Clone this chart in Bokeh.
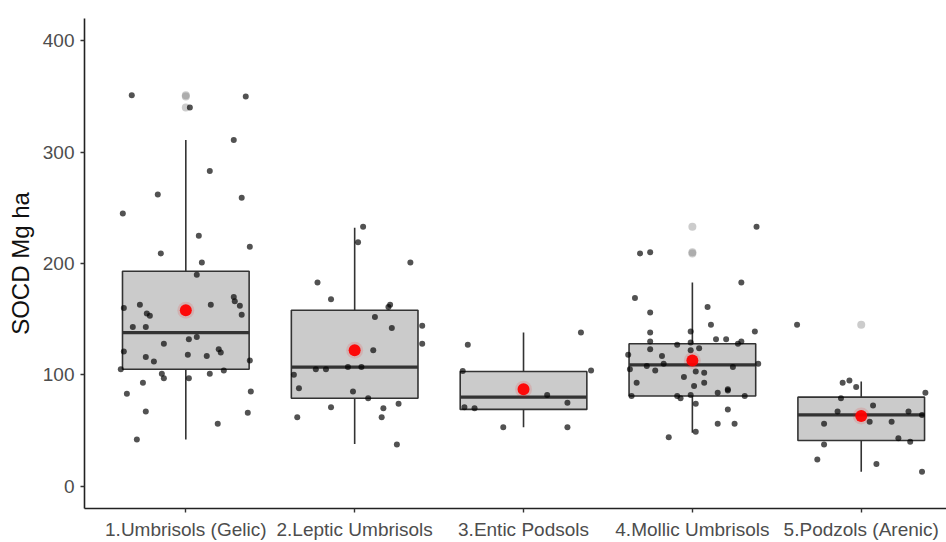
from bokeh.plotting import figure
from bokeh.models import FixedTicker, Range1d
from bokeh.embed import file_html
from bokeh.resources import INLINE

# ---------------- data ----------------
categories = ["1.Umbrisols (Gelic)", "2.Leptic Umbrisols", "3.Entic Podsols",
              "4.Mollic Umbrisols", "5.Podzols (Arenic)"]
y_ticks = [0, 100, 200, 300, 400]

# box statistics
q1 = [105, 79, 69, 81, 41]
median = [138, 107, 80, 109, 64]
q3 = [193, 158, 103, 128, 80]
whisker_low = [42, 38, 53, 48, 13]
whisker_high = [311, 232, 138, 183, 94]
means = [158, 122, 87, 113, 63]

# boxplot outliers (group index 1..5, value)
outlier_group = [1, 1, 1, 4, 4, 4, 5]
outlier_value = [351, 350, 340, 233, 210, 209, 145]

# jittered observations: values and horizontal jitter (category units)
umbrisols_gelic = [351, 350, 340, 311, 283, 262, 259, 245, 225, 215, 209, 201, 190, 170,
                   166, 162, 163, 160, 163, 155, 153, 154, 143, 143, 134, 132, 128, 121,
                   118, 117, 116, 112, 123, 120, 113, 105, 101, 97, 97, 101, 104, 93, 83,
                   85, 67, 66, 56, 42]
umbrisols_gelic_jit = [-0.32, 0.355, 0.024, 0.284, 0.142, -0.166, 0.331, -0.373, 0.077,
                       0.379, -0.148, 0.095, 0.065, 0.284, 0.29, 0.32, -0.272, -0.367,
                       0.148, -0.231, -0.213, 0.331, -0.314, -0.237, 0.065, 0.018, -0.13,
                       -0.367, 0.012, 0.124, -0.237, -0.189, 0.195, 0.207, 0.379, -0.385,
                       -0.142, -0.13, 0.018, 0.142, 0.225, -0.254, -0.349, 0.385, -0.237,
                       0.367, 0.189, -0.29]

leptic_umbrisols = [233, 219, 201, 183, 168, 163, 161, 152, 142, 144, 128, 122, 105, 105,
                    107, 107, 100, 88, 85, 79, 71, 74, 70, 62, 62, 37.5]
leptic_umbrisols_jit = [0.05, 0.02, 0.33, -0.22, -0.14, 0.21, 0.20, 0.12, 0.22, 0.40, 0.40,
                        0.11, -0.23, -0.17, -0.04, 0.04, -0.36, -0.33, -0.01, 0.08, -0.14,
                        0.26, 0.17, 0.16, -0.34, 0.25]

entic_podsols = [127, 138, 103.5, 104, 82, 75, 71, 70, 53, 53]
entic_podsols_jit = [-0.33, 0.34, -0.36, 0.40, 0.14, 0.26, -0.35, -0.29, -0.12, 0.26]

mollic_umbrisols = [233, 210, 209, 183, 169, 161, 156, 145, 138, 139, 139, 132, 132, 130,
                    129, 128, 130, 127, 124, 123, 122, 118, 117, 110, 108, 105, 104, 107,
                    110, 103, 102, 98, 93, 93, 90, 84, 86, 87, 81, 81, 79, 82, 81, 74, 69,
                    56, 56, 49, 44]
mollic_umbrisols_jit = [0.38, -0.25, -0.31, 0.29, -0.34, 0.09, -0.25, 0.11, -0.25, -0.01,
                        0.37, 0.14, 0.20, -0.25, -0.01, 0.27, 0.29, -0.09, 0.04, -0.25,
                        -0.01, -0.38, -0.18, -0.17, -0.27, -0.37, -0.22, 0.24, 0.39, 0.02,
                        0.07, -0.05, 0.07, -0.33, 0.01, 0.15, 0.21, 0.21, -0.36, -0.09,
                        -0.07, -0.01, 0.31, 0.02, 0.21, 0.15, 0.25, 0.02, -0.14]

podzols_arenic = [145, 93, 95, 89, 84, 79, 72.5, 67, 67, 64, 58, 58, 56, 43, 40, 37.5, 24,
                  20, 13]
podzols_arenic_jit = [-0.38, -0.11, -0.07, -0.03, 0.38, -0.12, 0.07, -0.14, 0.28, 0.36,
                      0.05, 0.18, -0.22, 0.22, 0.29, -0.22, -0.26, 0.09, 0.36]

groups = [umbrisols_gelic, leptic_umbrisols, entic_podsols, mollic_umbrisols, podzols_arenic]
jitters = [umbrisols_gelic_jit, leptic_umbrisols_jit, entic_podsols_jit,
           mollic_umbrisols_jit, podzols_arenic_jit]

# ---------------- figure ----------------
FONT = "Liberation Sans"
p = figure(width=946, height=542, output_backend="svg", toolbar_location=None,
           x_range=Range1d(0.4, 5.505), y_range=Range1d(-20, 420),
           min_border_left=84, min_border_right=0, min_border_top=18,
           min_border_bottom=31)
p.outline_line_color = None
p.xgrid.visible = False
p.ygrid.visible = False
p.background_fill_color = "white"
p.border_fill_color = "white"

pos = list(range(1, len(categories) + 1))
half = 0.375

# boxes
p.vbar(x=pos, width=0.75, bottom=q1, top=q3, fill_color="#CBCBCB",
       line_color="#333333", line_width=1.6)
# whiskers
p.segment(x0=pos, x1=pos, y0=whisker_low, y1=q1, line_color="#333333", line_width=1.6)
p.segment(x0=pos, x1=pos, y0=q3, y1=whisker_high, line_color="#333333", line_width=1.6)
# medians
p.segment(x0=[x - half for x in pos], x1=[x + half for x in pos], y0=median, y1=median,
          line_color="#333333", line_width=3.2)
# outliers
p.scatter(x=outlier_group, y=outlier_value, size=8, fill_color="#808080", fill_alpha=0.4,
          line_color=None)

# jittered points
for i, (vals, jit) in enumerate(zip(groups, jitters)):
    xs = [pos[i] + j for j in jit]
    p.scatter(x=xs, y=vals, size=6, fill_color="black", fill_alpha=0.68, line_color=None)

# means
p.scatter(x=pos, y=means, size=17, fill_color="red", fill_alpha=0.12, line_color=None)
p.scatter(x=pos, y=means, size=12, fill_color="#FF0000", fill_alpha=0.95, line_color=None)

# axes
for ax in (p.xaxis[0], p.yaxis[0]):
    ax.axis_line_color = "#222222"
    ax.axis_line_width = 1.6
    ax.major_tick_line_color = "#333333"
    ax.major_tick_line_width = 1.4
    ax.major_tick_out = 4
    ax.major_tick_in = 0
    ax.minor_tick_line_color = None
    ax.major_label_text_font = FONT
    ax.major_label_text_font_size = "19px"
    ax.major_label_text_color = "#4D4D4D"

p.yaxis.ticker = FixedTicker(ticks=y_ticks)
p.yaxis.major_label_standoff = 6
p.xaxis.ticker = FixedTicker(ticks=pos)
p.xaxis.major_label_overrides = {i + 1: c for i, c in enumerate(categories)}
p.xaxis.major_label_standoff = 6

p.yaxis.axis_label = "SOCD Mg ha"
p.yaxis.axis_label_text_font = FONT
p.yaxis.axis_label_text_font_size = "24px"
p.yaxis.axis_label_text_font_style = "normal"
p.yaxis.axis_label_text_color = "#111111"
p.yaxis.axis_label_standoff = 6

open("out.html", "w").write(file_html(p, INLINE))
